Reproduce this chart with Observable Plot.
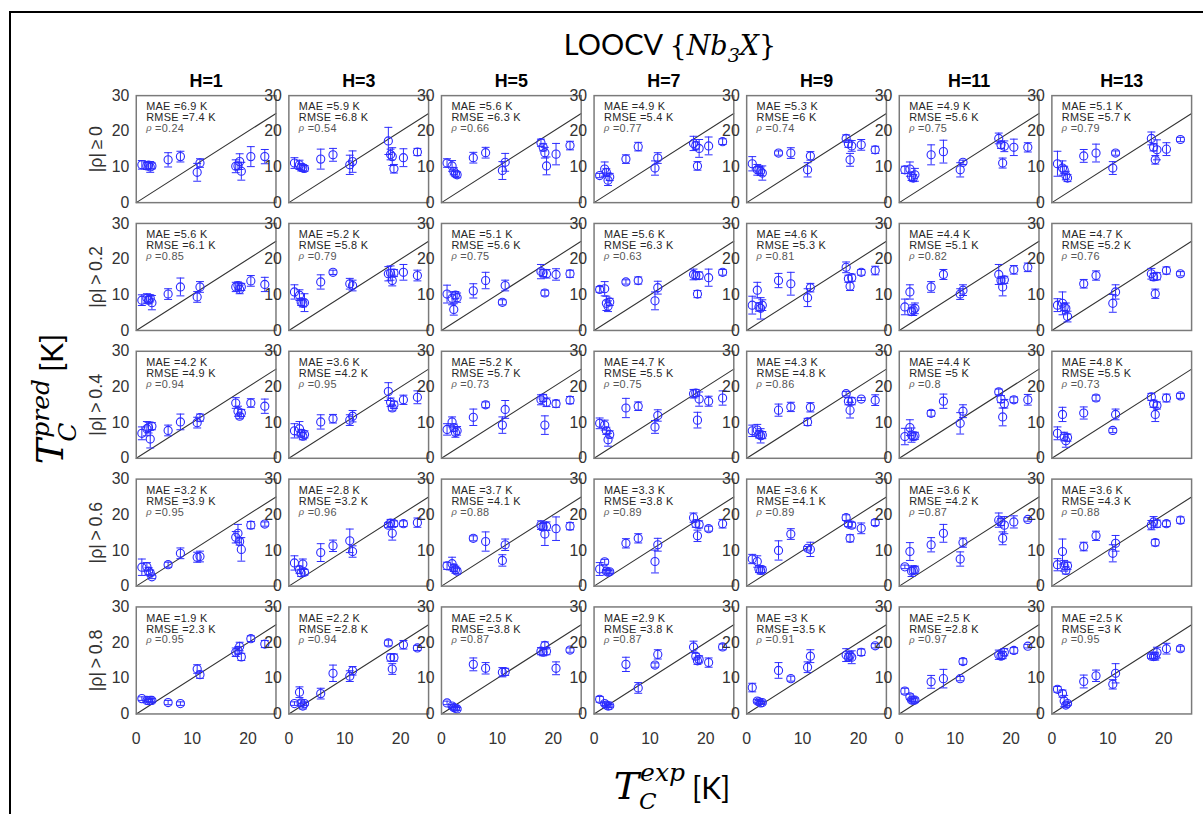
<!DOCTYPE html>
<html>
<head>
<meta charset="utf-8">
<script src="https://cdn.jsdelivr.net/npm/d3@7"></script>
<script src="https://cdn.jsdelivr.net/npm/@observablehq/plot@0.6"></script>
<style>
  html, body { margin: 0; padding: 0; background: #fff; }
  body { width: 1203px; height: 814px; overflow: hidden; position: relative; }
  #frame { position: absolute; left: 9px; top: 11px; width: 1300px; height: 900px;
           border-left: 2px solid #000; border-top: 2px solid #000; }
  #chart { position: absolute; left: 0; top: 0; }
  #title { position: absolute; left: 420px; width: 500px; top: 24px; text-align: center;
           font: 29px Lato, "Open Sans", sans-serif; color: #000; white-space: nowrap; line-height: 40px; }
  #title .m { font-family: "DejaVu Serif", serif; font-size: 27px; }
  #title .m i { font-style: italic; }
  #title sub { font-size: 19px; font-style: italic; vertical-align: -7px; line-height: 0; }
  .axl { position: absolute; white-space: nowrap; color: #000; line-height: 38px; height: 38px; text-align: center; }
  .axl .T { font: italic 38px "DejaVu Serif", serif; }
  .axl .ss { display: inline-block; position: relative; font: italic 25px "DejaVu Serif", serif; line-height: 25px; }
  .axl .ss .sup { position: relative; top: -14px; margin-left: 1px; }
  .axl .ss .sub { position: absolute; left: -3px; }
  #ylab .ss .sub { bottom: -13px; }
  #xlab .ss .sup { top: -18px; }
  #xlab .ss .sub { bottom: -11px; left: 0; font-size: 23px; }
  .axl .unit { font: 30px Lato, "Open Sans", sans-serif; margin-left: 7px; }
  #xlab { left: 562px; width: 220px; top: 764px; }
  #ylab { left: -63px; width: 220px; top: 380px; transform: rotate(-90deg); }
  .stat { letter-spacing: 0.3px; }
</style>
</head>
<body>
<div id="frame"></div>
<div id="title">LOOCV <span class="m">{<i>Nb</i><sub>3</sub><i>X</i>}</span></div>
<div id="chart"></div>
<div class="axl" id="ylab"><span class="T">T</span><span class="ss"><span class="sup">pred</span><span class="sub">C</span></span><span class="unit">[K]</span></div>
<div class="axl" id="xlab"><span class="T">T</span><span class="ss"><span class="sup">exp</span><span class="sub">C</span></span><span class="unit">[K]</span></div>
<script>
// Experimental critical temperatures of the Nb3X compounds (K)
const tcExp = [1.0, 1.9, 2.2, 2.5, 2.8, 5.7, 7.9, 10.9, 11.4, 17.8, 18.2, 18.5, 18.8, 20.5, 23.0];

// Panel layout: columns by number of hidden units, rows by correlation cut-off
const hValues = [1, 3, 5, 7, 9, 11, 13];
const rowLabels = ["|\u03C1|\u2009\u2265\u20090", "|\u03C1|\u2009>\u20090.2", "|\u03C1|\u2009>\u20090.4", "|\u03C1|\u2009>\u20090.6", "|\u03C1|\u2009>\u20090.8"];
const parityRange = [0, 25];
const xTicks = [0, 10, 20];
const yTicks = [0, 10, 20, 30];

// LOOCV predicted Tc (mean) and spread, one inner list per H value
const predRho00 = [
  [10.6, 10.3, 10.5, 10.0, 10.3, 12.0, 12.9, 8.5, 11.1, 10.2, 10.3, 11.5, 8.8, 12.9, 12.9],
  [11.1, 10.6, 9.9, 9.7, 9.6, 12.2, 13.4, 10.6, 11.5, 17.3, 13.5, 12.9, 9.5, 12.6, 14.2],
  [11.1, 10.3, 8.8, 8.1, 7.8, 12.6, 14.0, 9.0, 11.3, 16.8, 15.5, 14.0, 10.3, 13.6, 16.0],
  [7.6, 9.4, 8.5, 6.3, 7.2, 12.2, 15.7, 9.7, 12.5, 16.6, 16.0, 10.3, 15.2, 15.9, 17.1],
  [10.9, 9.2, 9.2, 8.8, 8.3, 13.9, 13.9, 9.2, 13.1, 18.0, 16.5, 12.0, 15.9, 16.2, 14.8],
  [9.2, 9.4, 7.4, 6.9, 7.8, 13.4, 14.3, 9.2, 11.3, 18.0, 16.2, 11.1, 15.8, 15.5, 15.5],
  [10.9, 9.7, 9.2, 7.6, 6.9, 13.1, 13.9, 9.7, 13.9, 18.0, 15.5, 12.0, 14.8, 15.0, 17.7]
];
const errRho00 = [
  [1.2, 1.0, 1.0, 1.5, 0.8, 2.0, 1.5, 2.5, 1.2, 1.8, 1.0, 2.2, 2.5, 2.8, 2.0],
  [1.5, 1.3, 1.0, 0.8, 0.8, 2.8, 1.8, 2.7, 3.0, 3.8, 1.5, 2.5, 1.2, 2.5, 1.0],
  [1.2, 1.5, 1.0, 0.8, 0.8, 1.5, 1.5, 2.5, 2.5, 1.0, 1.0, 1.5, 2.5, 3.0, 1.2],
  [0.6, 2.0, 1.0, 1.5, 1.0, 1.2, 1.2, 2.0, 1.5, 2.0, 1.0, 1.2, 2.5, 2.5, 0.8],
  [2.0, 1.5, 1.0, 1.2, 2.0, 0.6, 1.5, 2.0, 1.2, 1.0, 1.0, 1.8, 1.5, 1.5, 1.0],
  [1.0, 2.0, 1.2, 1.0, 1.8, 2.8, 3.2, 2.0, 0.6, 1.5, 1.0, 1.4, 1.5, 2.3, 1.3],
  [3.5, 2.0, 1.0, 1.2, 1.0, 1.8, 2.5, 1.8, 0.6, 1.8, 1.0, 1.2, 2.8, 1.8, 0.6]
];
const predRho02 = [
  [8.5, 9.0, 8.5, 9.0, 7.8, 10.2, 12.2, 9.4, 12.2, 12.2, 12.6, 11.5, 12.2, 13.9, 12.9],
  [10.8, 9.9, 8.0, 7.6, 7.8, 13.6, 16.3, 13.1, 12.6, 15.9, 16.1, 14.0, 16.1, 16.3, 15.4],
  [10.2, 9.0, 5.9, 9.9, 9.2, 11.1, 14.0, 7.9, 12.6, 16.5, 16.1, 10.5, 15.9, 15.7, 15.9],
  [11.5, 11.7, 7.6, 6.8, 8.0, 13.6, 14.0, 8.3, 12.0, 15.7, 15.4, 10.2, 15.4, 14.8, 16.3],
  [7.1, 11.3, 6.6, 6.2, 7.1, 14.0, 13.1, 9.2, 12.0, 17.7, 14.5, 12.4, 14.8, 16.3, 16.8],
  [6.6, 10.8, 5.3, 5.7, 6.2, 12.2, 15.7, 10.2, 11.3, 15.7, 14.0, 12.2, 14.2, 17.0, 17.7],
  [7.1, 7.6, 6.6, 6.2, 3.9, 13.1, 15.4, 7.6, 10.8, 15.9, 15.0, 10.3, 15.2, 16.8, 15.9]
];
const errRho02 = [
  [1.5, 1.3, 1.0, 1.0, 2.0, 1.5, 2.5, 1.5, 1.5, 1.3, 1.0, 1.2, 1.0, 1.5, 2.0],
  [2.0, 1.5, 1.0, 1.0, 2.5, 2.0, 0.6, 1.5, 1.5, 2.0, 2.0, 1.5, 1.0, 2.2, 1.5],
  [2.5, 1.8, 1.6, 1.0, 1.3, 2.0, 2.3, 0.7, 1.5, 2.0, 1.0, 0.8, 1.2, 1.6, 1.0],
  [0.8, 2.0, 2.0, 1.5, 1.0, 0.6, 1.0, 2.5, 1.8, 1.5, 1.0, 1.0, 1.0, 2.4, 0.8],
  [2.5, 2.2, 1.2, 3.0, 1.5, 2.0, 3.2, 2.5, 1.2, 1.5, 1.0, 1.2, 1.0, 0.8, 1.2],
  [2.2, 2.0, 1.0, 1.5, 1.5, 1.5, 1.4, 1.5, 1.5, 2.8, 1.0, 2.5, 1.0, 1.2, 1.2],
  [1.8, 3.2, 1.0, 1.5, 1.5, 1.2, 1.3, 2.5, 2.0, 1.5, 1.0, 1.3, 1.0, 1.0, 0.6]
];
const predRho04 = [
  [7.0, 8.3, 8.6, 5.4, 9.0, 7.8, 10.2, 10.0, 11.4, 15.5, 13.2, 11.8, 12.7, 15.5, 14.6],
  [7.7, 8.3, 7.0, 6.2, 6.7, 10.2, 11.1, 10.7, 11.8, 18.7, 15.7, 14.1, 15.0, 16.4, 17.1],
  [8.1, 10.2, 8.6, 7.2, 7.7, 11.5, 15.0, 9.3, 13.7, 16.4, 16.9, 9.3, 15.7, 15.3, 16.3],
  [9.8, 9.3, 7.7, 5.2, 6.7, 14.1, 14.6, 8.8, 12.0, 18.1, 18.3, 10.7, 16.6, 16.0, 16.9],
  [7.7, 7.9, 6.7, 6.3, 6.5, 13.5, 14.4, 10.2, 14.3, 18.1, 16.0, 13.5, 16.0, 16.6, 16.3],
  [6.1, 8.6, 6.5, 6.1, 6.3, 12.6, 16.0, 9.8, 13.2, 18.6, 16.6, 11.6, 15.3, 16.4, 16.4],
  [7.0, 12.3, 6.1, 4.9, 5.8, 12.7, 16.9, 7.8, 12.3, 17.2, 15.3, 12.3, 14.8, 16.9, 17.5]
];
const errRho04 = [
  [1.8, 2.0, 1.5, 2.5, 1.0, 1.5, 2.2, 1.5, 1.0, 1.5, 1.4, 0.7, 1.0, 1.2, 2.0],
  [2.0, 2.0, 1.0, 1.0, 1.0, 2.0, 1.2, 1.5, 1.6, 2.5, 1.2, 0.8, 1.0, 1.3, 1.8],
  [1.6, 1.4, 1.0, 1.3, 1.2, 2.3, 0.8, 2.3, 2.5, 1.4, 1.0, 2.6, 1.2, 1.0, 1.0],
  [1.5, 1.4, 1.0, 1.8, 1.0, 2.7, 1.2, 1.8, 1.6, 1.2, 1.0, 2.2, 2.0, 1.4, 2.0],
  [1.6, 1.6, 1.0, 2.0, 1.0, 1.7, 1.3, 1.0, 1.3, 0.6, 1.0, 2.2, 1.0, 0.4, 1.5],
  [2.3, 2.2, 2.0, 1.0, 1.0, 0.8, 2.0, 3.0, 1.8, 0.8, 1.0, 2.5, 1.2, 0.8, 1.5],
  [1.8, 2.0, 1.2, 1.8, 1.0, 1.7, 0.8, 0.6, 1.5, 1.0, 1.0, 2.0, 1.0, 1.1, 0.7]
];
const predRho06 = [
  [5.3, 5.4, 4.2, 3.7, 2.6, 6.0, 9.2, 8.1, 8.3, 13.7, 14.8, 12.5, 10.3, 17.1, 17.4],
  [6.5, 4.6, 3.7, 6.2, 3.9, 9.4, 11.3, 12.7, 9.7, 17.1, 17.7, 14.8, 17.5, 17.5, 17.8],
  [5.7, 6.3, 5.1, 4.6, 4.2, 13.4, 12.5, 7.2, 11.6, 17.1, 16.6, 14.6, 16.8, 16.1, 16.8],
  [4.8, 6.8, 4.2, 3.9, 4.0, 12.0, 13.4, 6.9, 11.6, 19.2, 17.5, 14.1, 17.3, 16.1, 17.5],
  [7.6, 6.9, 4.8, 4.4, 4.6, 10.0, 14.6, 10.6, 10.3, 19.2, 17.4, 13.4, 17.1, 16.2, 17.8],
  [5.4, 9.7, 4.2, 4.4, 4.6, 11.6, 14.8, 7.6, 12.2, 18.5, 18.0, 13.4, 17.1, 18.0, 18.7],
  [6.0, 9.7, 5.7, 4.4, 5.7, 11.1, 14.1, 9.2, 12.0, 17.1, 18.0, 12.2, 17.5, 17.5, 18.5]
];
const errRho06 = [
  [2.3, 1.2, 1.0, 0.8, 0.5, 0.7, 1.5, 1.4, 1.5, 1.6, 2.5, 1.0, 3.3, 1.0, 0.6],
  [2.0, 1.0, 1.0, 1.4, 0.8, 2.5, 1.6, 3.3, 1.6, 0.7, 1.0, 1.9, 0.8, 0.8, 1.3],
  [1.0, 1.8, 1.0, 1.0, 0.8, 0.7, 2.7, 1.6, 1.6, 1.2, 1.0, 3.2, 1.2, 3.3, 1.0],
  [1.8, 0.7, 0.5, 0.5, 0.5, 1.3, 1.3, 3.2, 1.8, 1.3, 1.0, 1.6, 1.0, 0.7, 1.2],
  [1.3, 1.6, 1.0, 1.0, 0.8, 2.7, 1.5, 0.5, 2.0, 0.8, 0.7, 1.0, 0.8, 1.5, 0.8],
  [0.5, 2.5, 1.5, 1.0, 1.0, 2.0, 2.5, 2.0, 1.3, 2.0, 1.0, 1.8, 2.4, 1.7, 0.5],
  [1.7, 3.5, 1.5, 1.0, 1.0, 1.2, 1.3, 2.4, 2.2, 1.3, 1.5, 0.9, 1.0, 0.8, 0.9]
];
const predRho08 = [
  [4.3, 3.8, 3.7, 3.8, 3.8, 3.2, 2.9, 12.6, 11.0, 17.3, 17.8, 18.9, 16.0, 21.1, 19.6],
  [2.9, 6.1, 3.1, 2.2, 2.9, 5.7, 11.4, 10.6, 12.1, 19.9, 15.8, 12.6, 15.8, 19.4, 18.5],
  [3.1, 2.2, 1.8, 1.6, 1.4, 13.9, 12.8, 11.7, 11.8, 17.6, 17.3, 19.2, 17.6, 12.8, 17.9],
  [4.1, 2.9, 2.5, 2.2, 2.3, 13.9, 7.3, 13.7, 16.7, 18.8, 16.2, 14.9, 15.3, 14.4, 18.8],
  [7.4, 3.6, 3.4, 3.1, 3.2, 12.2, 9.9, 13.1, 16.2, 16.5, 15.9, 16.4, 15.9, 17.3, 19.1],
  [6.4, 4.8, 3.9, 3.9, 3.9, 9.0, 9.9, 9.9, 14.7, 16.6, 16.2, 16.5, 17.3, 17.8, 19.0],
  [6.9, 5.7, 3.6, 2.5, 2.9, 9.1, 10.7, 8.3, 11.4, 16.2, 16.1, 16.2, 17.2, 18.3, 18.3]
];
const errRho08 = [
  [0.5, 0.4, 0.4, 0.4, 0.5, 0.6, 0.5, 1.2, 1.0, 1.2, 1.0, 1.2, 1.0, 0.8, 1.0],
  [0.5, 1.5, 0.8, 0.8, 0.5, 1.5, 2.3, 1.5, 1.2, 0.8, 1.0, 1.5, 1.0, 1.2, 0.7],
  [0.5, 0.4, 0.4, 0.5, 0.4, 1.8, 1.6, 1.3, 1.0, 1.0, 1.0, 1.0, 1.0, 1.8, 0.6],
  [0.8, 0.5, 0.5, 0.4, 0.4, 2.0, 1.5, 0.6, 1.3, 1.6, 0.8, 1.0, 1.0, 1.3, 0.8],
  [1.2, 0.5, 0.4, 0.4, 0.4, 2.2, 0.7, 1.5, 1.8, 1.8, 1.0, 1.0, 1.8, 0.9, 0.6],
  [0.8, 0.8, 0.5, 0.5, 0.6, 1.8, 2.6, 0.6, 0.8, 1.3, 0.8, 1.0, 1.0, 0.8, 0.5],
  [0.8, 1.0, 1.6, 0.6, 0.5, 1.8, 1.6, 1.3, 2.7, 0.6, 0.6, 1.1, 1.5, 1.5, 0.7]
];

// Error metrics printed in each panel (rows by cut-off, columns by H)
const maeK = [
  ["6.9", "5.9", "5.6", "4.9", "5.3", "4.9", "5.1"],
  ["5.6", "5.2", "5.1", "5.6", "4.6", "4.4", "4.7"],
  ["4.2", "3.6", "5.2", "4.7", "4.3", "4.4", "4.8"],
  ["3.2", "2.8", "3.7", "3.3", "3.6", "3.6", "3.6"],
  ["1.9", "2.2", "2.5", "2.9", "3", "2.5", "2.5"]
];
const rmseK = [
  ["7.4", "6.8", "6.3", "5.4", "6", "5.6", "5.7"],
  ["6.1", "5.8", "5.6", "6.3", "5.3", "5.1", "5.2"],
  ["4.9", "4.2", "5.7", "5.5", "4.8", "5", "5.5"],
  ["3.9", "3.2", "4.1", "3.8", "4.1", "4.2", "4.3"],
  ["2.3", "2.8", "3.8", "3.8", "3.5", "2.8", "3"]
];
const rhoFit = [
  ["0.24", "0.54", "0.66", "0.77", "0.74", "0.75", "0.79"],
  ["0.85", "0.79", "0.75", "0.63", "0.81", "0.82", "0.76"],
  ["0.94", "0.95", "0.73", "0.75", "0.86", "0.8", "0.73"],
  ["0.95", "0.96", "0.88", "0.89", "0.89", "0.87", "0.88"],
  ["0.95", "0.94", "0.87", "0.87", "0.91", "0.97", "0.95"]
];

const predRows = [predRho00, predRho02, predRho04, predRho06, predRho08];
const errRows = [errRho00, errRho02, errRho04, errRho06, errRho08];

const points = [];
const stats = [];
rowLabels.forEach((row, r) => {
  hValues.forEach((H, h) => {
    tcExp.forEach((x, i) => {
      const y = predRows[r][h][i], e = errRows[r][h][i];
      points.push({row, H, x, y, lo: y - e, hi: y + e});
    });
    stats.push({row, H, mae: maeK[r][h], rmse: rmseK[r][h], rho: rhoFit[r][h]});
  });
});

const blue = "#2b2bff";
// horizontal bar used as the error-bar cap
const capSymbol = {
  draw(context, size) {
    const w = Math.sqrt(size / Math.PI);
    context.moveTo(-w, 0);
    context.lineTo(w, 0);
  }
};
const facet = {fx: "H", fy: "row"};

const chart = Plot.plot({
  width: 1214,
  height: 814,
  marginLeft: 135,
  marginRight: 10,
  marginTop: 95,
  marginBottom: 94,
  style: {fontFamily: "'Liberation Sans', Arial, sans-serif", color: "#262626", background: "transparent", overflow: "visible"},
  fx: {domain: hValues, paddingInner: 0.087, paddingOuter: 0},
  fy: {domain: rowLabels, paddingInner: 0.164, paddingOuter: 0, axis: null},
  x: {domain: parityRange},
  y: {domain: [yTicks[0], yTicks[yTicks.length - 1]]},
  marks: [
    Plot.line(parityRange, {x: (d) => d, y: (d) => d, stroke: "#333", strokeWidth: 1.1}),
    Plot.ruleX(points, {...facet, x: "x", y1: "lo", y2: "hi", stroke: blue, strokeWidth: 1}),
    Plot.dot(points, {...facet, x: "x", y: "lo", symbol: capSymbol, r: 4, stroke: blue, strokeWidth: 1}),
    Plot.dot(points, {...facet, x: "x", y: "hi", symbol: capSymbol, r: 4, stroke: blue, strokeWidth: 1}),
    Plot.dot(points, {...facet, x: "x", y: "y", r: 4.1, stroke: blue, strokeWidth: 1.1, fill: "none"}),
    Plot.text(stats, {...facet, frameAnchor: "top-left", lineAnchor: "top", dx: 10, dy: 7, className: "stat",
      text: (d) => `MAE =${d.mae} K\nRMSE =${d.rmse} K`, fontSize: 11, lineHeight: 1, fill: "#262626"}),
    Plot.text(stats, {...facet, frameAnchor: "top-left", lineAnchor: "top", dx: 10, dy: 28,
      text: () => "\u03C1", fontSize: 11.5, fontStyle: "italic", fontFamily: "'Liberation Serif', serif", fill: "#6a6a6a"}),
    Plot.text(stats, {...facet, frameAnchor: "top-left", lineAnchor: "top", dx: 19, dy: 29, className: "stat",
      text: (d) => `=${d.rho}`, fontSize: 11, fill: "#555"}),
    Plot.frame({stroke: "#7a7a7a", strokeWidth: 1.5}),
    Plot.axisY({ticks: yTicks, tickSize: 0, tickPadding: 7, fontSize: 16, label: null, facetAnchor: null, fill: "#333"}),
    Plot.axisX({ticks: xTicks, tickSize: 0, tickPadding: 19, fontSize: 16, label: null, fill: "#333"}),
    Plot.axisFx({anchor: "top", label: null, tickSize: 0, tickPadding: 9, fontSize: 18, fontWeight: "bold",
      tickFormat: (d) => `H=${d}`, fill: "#000"}),
    Plot.text(rowLabels, {fy: (d) => d, fx: () => hValues[0], text: (d) => d, frameAnchor: "left",
      textAnchor: "middle", rotate: -90, dx: -40, fontSize: 18, fill: "#333"})
  ]
});
document.getElementById("chart").appendChild(chart);
</script>
</body>
</html>
